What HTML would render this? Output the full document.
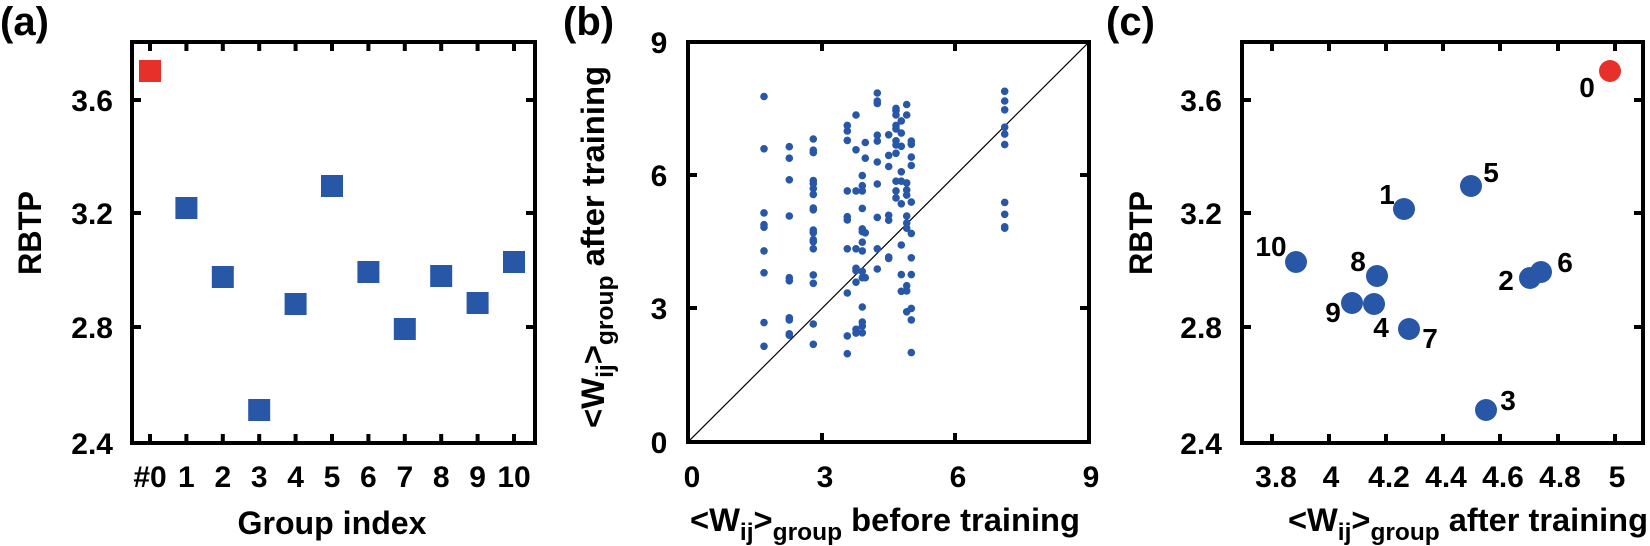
<!DOCTYPE html>
<html><head><meta charset="utf-8"><style>
html,body{margin:0;padding:0;background:#fff;}
svg{display:block;font-family:"Liberation Sans",Arial,sans-serif;font-weight:bold;}
</style></head><body>
<svg width="1650" height="546" viewBox="0 0 1650 546" xmlns="http://www.w3.org/2000/svg">
<g font-size="40"><text x="0" y="35">(a)</text><text x="563" y="35">(b)</text><text x="1106" y="35">(c)</text></g>

<!-- Panel A -->
<g stroke="#000" stroke-width="4" fill="none">
<rect x="132" y="42" width="403" height="401"/>
</g>
<g stroke="#000" stroke-width="4">
<path d="M150 42v9M186.4 42v9M222.8 42v9M259.2 42v9M295.6 42v9M332 42v9M368.4 42v9M404.8 42v9M441.2 42v9M477.6 42v9M514 42v9"/>
<path d="M150 443v-9M186.4 443v-9M222.8 443v-9M259.2 443v-9M295.6 443v-9M332 443v-9M368.4 443v-9M404.8 443v-9M441.2 443v-9M477.6 443v-9M514 443v-9"/>
<path d="M132 100h9M132 213h9M132 327h9M535 100h-9M535 213h-9M535 327h-9"/>
</g>
<rect x="139" y="60" width="22" height="22" fill="#e8302a"/>
<g fill="#2857a8">
<rect x="175.4" y="197" width="22" height="22"/>
<rect x="211.8" y="266" width="22" height="22"/>
<rect x="248.2" y="399" width="22" height="22"/>
<rect x="284.6" y="293" width="22" height="22"/>
<rect x="321" y="175" width="22" height="22"/>
<rect x="357.4" y="261" width="22" height="22"/>
<rect x="393.8" y="318" width="22" height="22"/>
<rect x="430.2" y="265" width="22" height="22"/>
<rect x="466.6" y="292" width="22" height="22"/>
<rect x="503" y="251" width="22" height="22"/>
</g>
<g font-size="30" text-anchor="end">
<text x="113" y="111">3.6</text><text x="113" y="224">3.2</text><text x="113" y="338">2.8</text><text x="113" y="454">2.4</text>
</g>
<g font-size="30" text-anchor="middle">
<text x="150" y="487">#0</text><text x="186.4" y="487">1</text><text x="222.8" y="487">2</text><text x="259.2" y="487">3</text><text x="295.6" y="487">4</text><text x="332" y="487">5</text><text x="368.4" y="487">6</text><text x="404.8" y="487">7</text><text x="441.2" y="487">8</text><text x="477.6" y="487">9</text><text x="514" y="487">10</text>
</g>
<text x="332" y="534" font-size="32" text-anchor="middle" textLength="189" lengthAdjust="spacingAndGlyphs">Group index</text>
<text transform="translate(41,233) rotate(-90)" font-size="32" text-anchor="middle" textLength="84" lengthAdjust="spacingAndGlyphs">RBTP</text>

<!-- Panel B -->
<defs><clipPath id="cb"><rect x="688" y="42" width="401" height="400"/></clipPath></defs>
<line x1="688" y1="442" x2="1089" y2="42" stroke="#000" stroke-width="1.2" clip-path="url(#cb)"/>
<g stroke="#000" stroke-width="4" fill="none"><rect x="688" y="42" width="401" height="400"/></g>
<g stroke="#000" stroke-width="4">
<path d="M822 42v9M955 42v9M822 442v-9M955 442v-9M688 175h9M688 308h9M1089 175h-9M1089 308h-9"/>
</g>
<g font-size="30" text-anchor="middle">
<text x="659" y="53">9</text><text x="659" y="186">6</text><text x="659" y="319">3</text><text x="659" y="453">0</text>
<text x="692" y="487">0</text><text x="825" y="487">3</text><text x="958" y="487">6</text><text x="1091" y="487">9</text>
</g>
<text x="690" y="531" font-size="32" textLength="390" lengthAdjust="spacingAndGlyphs">&lt;W<tspan font-size="24" dy="9">ij</tspan><tspan dy="-9">&gt;</tspan><tspan font-size="24" dy="9">group</tspan><tspan dy="-9"> before training</tspan></text>
<text transform="translate(604,428) rotate(-90)" font-size="32" textLength="362" lengthAdjust="spacingAndGlyphs">&lt;W<tspan font-size="24" dy="9">ij</tspan><tspan dy="-9">&gt;</tspan><tspan font-size="24" dy="9">group</tspan><tspan dy="-9"> after training</tspan></text>

<!-- Panel C -->
<g stroke="#000" stroke-width="4" fill="none"><rect x="1242" y="42" width="401" height="401"/></g>
<g stroke="#000" stroke-width="4">
<path d="M1272 42v9M1329 42v9M1386 42v9M1443 42v9M1500 42v9M1558 42v9M1615 42v9"/>
<path d="M1272 443v-9M1329 443v-9M1386 443v-9M1443 443v-9M1500 443v-9M1558 443v-9M1615 443v-9"/>
<path d="M1242 100h9M1242 213h9M1242 327h9M1643 100h-9M1643 213h-9M1643 327h-9"/>
</g>
<circle cx="1610" cy="71" r="11" fill="#e8302a"/>
<g fill="#2857a8">
<circle cx="1471" cy="186" r="11"/><circle cx="1404" cy="209" r="11"/><circle cx="1296" cy="262" r="11"/>
<circle cx="1377" cy="276" r="11"/><circle cx="1530" cy="278" r="11"/><circle cx="1541" cy="272" r="11"/>
<circle cx="1352" cy="303" r="11"/><circle cx="1374" cy="304" r="11"/><circle cx="1409" cy="329" r="11"/>
<circle cx="1486" cy="410" r="11"/>
</g>
<g font-size="28" text-anchor="middle">
<text x="1587" y="97">0</text><text x="1491" y="182">5</text><text x="1387" y="204">1</text><text x="1271" y="256">10</text>
<text x="1358" y="271">8</text><text x="1506" y="290">2</text><text x="1565" y="272">6</text><text x="1333" y="322">9</text>
<text x="1381" y="337">4</text><text x="1430" y="348">7</text><text x="1508" y="410">3</text>
</g>
<g font-size="30" text-anchor="end">
<text x="1222" y="111">3.6</text><text x="1222" y="224">3.2</text><text x="1222" y="338">2.8</text><text x="1222" y="454">2.4</text>
</g>
<g font-size="30" text-anchor="middle">
<text x="1276" y="487">3.8</text><text x="1331" y="487">4</text><text x="1389" y="487">4.2</text><text x="1446" y="487">4.4</text><text x="1503" y="487">4.6</text><text x="1560" y="487">4.8</text><text x="1617" y="487">5</text>
</g>
<text x="1288" y="531" font-size="32" textLength="360" lengthAdjust="spacingAndGlyphs">&lt;W<tspan font-size="24" dy="9">ij</tspan><tspan dy="-9">&gt;</tspan><tspan font-size="24" dy="9">group</tspan><tspan dy="-9"> after training</tspan></text>
<text transform="translate(1152,233) rotate(-90)" font-size="32" text-anchor="middle" textLength="84" lengthAdjust="spacingAndGlyphs">RBTP</text>

<g fill="#2857a8">
<g transform="translate(764,0)"><circle cy="96.5" r="3.8"/><circle cy="148.8" r="3.8"/><circle cy="212.9" r="3.8"/><circle cy="224.7" r="3.8"/><circle cy="227.2" r="3.8"/><circle cy="250.9" r="3.8"/><circle cy="272.8" r="3.8"/><circle cy="322.6" r="3.8"/><circle cy="346.3" r="3.8"/></g>
<g transform="translate(789.3,0)"><circle cy="146.7" r="3.8"/><circle cy="158.2" r="3.8"/><circle cy="179.8" r="3.8"/><circle cy="216" r="3.8"/><circle cy="277.7" r="3.8"/><circle cy="280.8" r="3.8"/><circle cy="317.8" r="3.8"/><circle cy="319.9" r="3.8"/><circle cy="333.8" r="3.8"/><circle cy="335.2" r="3.8"/></g>
<g transform="translate(813.3,0)"><circle cy="139" r="3.8"/><circle cy="150.2" r="3.8"/><circle cy="152.6" r="3.8"/><circle cy="180.5" r="3.8"/><circle cy="183.6" r="3.8"/><circle cy="188.5" r="3.8"/><circle cy="194.4" r="3.8"/><circle cy="208" r="3.8"/><circle cy="209.8" r="3.8"/><circle cy="230" r="3.8"/><circle cy="232.8" r="3.8"/><circle cy="239.7" r="3.8"/><circle cy="241.8" r="3.8"/><circle cy="248.8" r="3.8"/><circle cy="274.9" r="3.8"/><circle cy="283.3" r="3.8"/><circle cy="324" r="3.8"/><circle cy="344.3" r="3.8"/></g>
<g transform="translate(847.3,0)"><circle cy="125.4" r="3.8"/><circle cy="131" r="3.8"/><circle cy="140.4" r="3.8"/><circle cy="190.9" r="3.8"/><circle cy="216.7" r="3.8"/><circle cy="219.9" r="3.8"/><circle cy="248.8" r="3.8"/><circle cy="293" r="3.8"/><circle cy="335.9" r="3.8"/><circle cy="353.7" r="3.8"/></g>
<g transform="translate(856,0)"><circle cy="115" r="3.8"/><circle cy="149.8" r="3.8"/><circle cy="190.9" r="3.8"/><circle cy="248.8" r="3.8"/><circle cy="268.3" r="3.8"/><circle cy="270.7" r="3.8"/><circle cy="282.2" r="3.8"/><circle cy="329.3" r="3.8"/><circle cy="333.1" r="3.8"/></g>
<g transform="translate(862.3,0)"><circle cy="175.6" r="3.8"/><circle cy="185.7" r="3.8"/><circle cy="190.9" r="3.8"/><circle cy="208.4" r="3.8"/><circle cy="228.9" r="3.8"/><circle cy="231.7" r="3.8"/><circle cy="242.2" r="3.8"/><circle cy="250.9" r="3.8"/><circle cy="271.4" r="3.8"/><circle cy="277.7" r="3.8"/><circle cy="307" r="3.8"/><circle cy="322" r="3.8"/><circle cy="326.1" r="3.8"/><circle cy="332.8" r="3.8"/></g>
<g transform="translate(865.3,0)"><circle cy="142.5" r="3.8"/><circle cy="158.2" r="3.8"/><circle cy="232.8" r="3.8"/><circle cy="277.7" r="3.8"/></g>
<g transform="translate(877.3,0)"><circle cy="93" r="3.8"/><circle cy="101" r="3.8"/><circle cy="103.5" r="3.8"/><circle cy="135.2" r="3.8"/><circle cy="141.1" r="3.8"/><circle cy="162" r="3.8"/><circle cy="184" r="3.8"/><circle cy="217.4" r="3.8"/><circle cy="248.8" r="3.8"/><circle cy="269" r="3.8"/></g>
<g transform="translate(888.7,0)"><circle cy="134.8" r="3.8"/><circle cy="155.4" r="3.8"/><circle cy="166.5" r="3.8"/><circle cy="215.3" r="3.8"/><circle cy="220.2" r="3.8"/><circle cy="257.1" r="3.8"/><circle cy="258.5" r="3.8"/></g>
<g transform="translate(896,0)"><circle cy="108.4" r="3.8"/><circle cy="110.8" r="3.8"/><circle cy="115" r="3.8"/><circle cy="125.4" r="3.8"/><circle cy="128.9" r="3.8"/><circle cy="140.8" r="3.8"/><circle cy="144.9" r="3.8"/><circle cy="153.3" r="3.8"/><circle cy="181.2" r="3.8"/><circle cy="190.9" r="3.8"/><circle cy="197.9" r="3.8"/></g>
<g transform="translate(901.3,0)"><circle cy="120.9" r="3.8"/><circle cy="133.1" r="3.8"/><circle cy="146.3" r="3.8"/><circle cy="171.8" r="3.8"/><circle cy="181.2" r="3.8"/><circle cy="203.8" r="3.8"/><circle cy="245" r="3.8"/><circle cy="274.6" r="3.8"/><circle cy="291.3" r="3.8"/></g>
<g transform="translate(906.7,0)"><circle cy="104.5" r="3.8"/><circle cy="115" r="3.8"/><circle cy="182.9" r="3.8"/><circle cy="189.9" r="3.8"/><circle cy="195.1" r="3.8"/><circle cy="216" r="3.8"/><circle cy="223" r="3.8"/><circle cy="228.2" r="3.8"/><circle cy="285.7" r="3.8"/><circle cy="290.9" r="3.8"/><circle cy="311.8" r="3.8"/></g>
<g transform="translate(911.3,0)"><circle cy="141.1" r="3.8"/><circle cy="144.3" r="3.8"/><circle cy="157.1" r="3.8"/><circle cy="165.5" r="3.8"/><circle cy="202.1" r="3.8"/><circle cy="233.4" r="3.8"/><circle cy="257.8" r="3.8"/><circle cy="274.6" r="3.8"/><circle cy="308.4" r="3.8"/><circle cy="319.9" r="3.8"/><circle cy="352.6" r="3.8"/></g>
<g transform="translate(1004.7,0)"><circle cy="91.3" r="3.8"/><circle cy="101" r="3.8"/><circle cy="109.8" r="3.8"/><circle cy="127.2" r="3.8"/><circle cy="134.1" r="3.8"/><circle cy="144.6" r="3.8"/><circle cy="202.4" r="3.8"/><circle cy="214.3" r="3.8"/><circle cy="226.8" r="3.8"/><circle cy="228.2" r="3.8"/></g>
</g>
</svg>
</body></html>
